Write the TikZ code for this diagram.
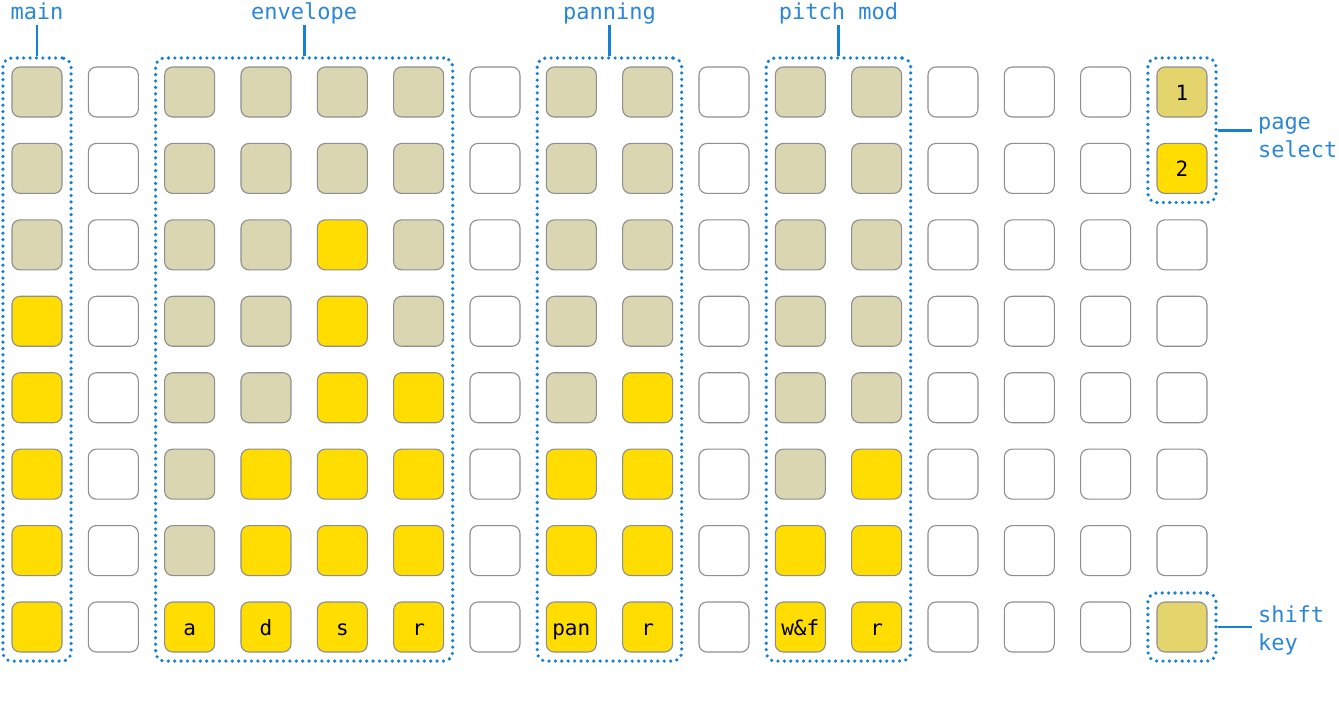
\documentclass[tikz,border=0pt]{standalone}
\usepackage{fontspec}
\setmonofont{DejaVu Sans Mono}
\usetikzlibrary{fit}
\definecolor{beige}{HTML}{DAD6B2}
\definecolor{ylw}{HTML}{FFDD00}
\definecolor{dylw}{HTML}{E3D46B}
\definecolor{keyedge}{HTML}{8E8E8E}
\definecolor{grpblue}{HTML}{1480D6}
\definecolor{lblblue}{HTML}{2A86D8}
\begin{document}
\begin{tikzpicture}[x=1pt,y=-1pt,
  key/.style={draw=keyedge, line width=1.1pt, rounded corners=8pt, minimum size=50pt,
    inner sep=0pt, text height=16pt, text depth=0pt,
    font=\ttfamily\fontsize{21}{24}\selectfont},
  grp/.style={draw=grpblue, line width=3.6pt, dash pattern=on 0pt off 6.4pt, line cap=round,
    rounded corners=9pt, inner sep=8.5pt},
  lead/.style={draw=grpblue, line width=2.8pt},
  lbl/.style={text=lblblue, font=\ttfamily\fontsize{22}{28}\selectfont, inner sep=0pt,
    inner ysep=5pt, text depth=0pt},
  sidelbl/.style={text=lblblue, font=\ttfamily\fontsize{22}{28}\selectfont, inner sep=0pt,
    inner xsep=6pt, align=left}]
\useasboundingbox (0,0) rectangle (1339,721);
% white columns
\foreach \c in {1,6,9,12,13,14}{
  \foreach \r in {0,...,7}{
    \node[key, fill=white] (k-\c-\r) at ({37+\c*76.33},{92+\r*76.43}) {};
  }
}
% coloured columns: number of beige keys at top, label of bottom key
\foreach \c/\n/\t in {0/3/{},2/7/a,3/5/d,4/2/s,5/4/r,7/5/pan,8/4/r,10/6/w\&f,11/5/r}{
  \foreach \r in {0,...,7}{
    \ifnum\r<\n \def\fc{beige}\else\def\fc{ylw}\fi
    \ifnum\r=7 \def\kt{\t}\else\def\kt{}\fi
    \node[key, fill=\fc] (k-\c-\r) at ({37+\c*76.33},{92+\r*76.43}) {\kt};
  }
}
% last column
\node[key, fill=dylw] (k-15-0) at ({37+15*76.33},{92}) {1};
\node[key, fill=ylw] (k-15-1) at ({37+15*76.33},{92+76.43}) {2};
\foreach \r in {2,...,6}{
  \node[key, fill=white] (k-15-\r) at ({37+15*76.33},{92+\r*76.43}) {};
}
\node[key, fill=dylw] (k-15-7) at ({37+15*76.33},{92+7*76.43}) {};
% groups
\node[grp, fit=(k-0-0)(k-0-7)] (gmain) {};
\node[grp, fit=(k-2-0)(k-5-7)] (genv) {};
\node[grp, fit=(k-7-0)(k-8-7)] (gpan) {};
\node[grp, fit=(k-10-0)(k-11-7)] (gpitch) {};
\node[grp, fit=(k-15-0)(k-15-1)] (gpage) {};
\node[grp, fit=(k-15-7)] (gshift) {};
% top labels
\node[lbl, anchor=south] (lmain) at ([yshift=31pt]gmain.north) {main};
\node[lbl, anchor=south] (lenv) at ([yshift=31pt]genv.north) {envelope};
\node[lbl, anchor=south] (lpan) at ([yshift=31pt]gpan.north) {panning};
\node[lbl, anchor=south] (lpitch) at ([yshift=31pt]gpitch.north) {pitch mod};
\draw[lead] (gmain.north) -- (lmain.south);
\draw[lead] (genv.north) -- (lenv.south);
\draw[lead] (gpan.north) -- (lpan.south);
\draw[lead] (gpitch.north) -- (lpitch.south);
% side labels
\node[sidelbl, anchor=west] (lpage) at ([xshift=34pt,yshift=-7pt]gpage.east) {page\\select};
\node[sidelbl, anchor=west] (lshift) at ([xshift=34pt,yshift=-3pt]gshift.east) {shift\\key};
\draw[lead] (gpage.east) -- (gpage.east -| lpage.west);
\draw[lead] (gshift.east) -- (gshift.east -| lshift.west);
\end{tikzpicture}
\end{document}
